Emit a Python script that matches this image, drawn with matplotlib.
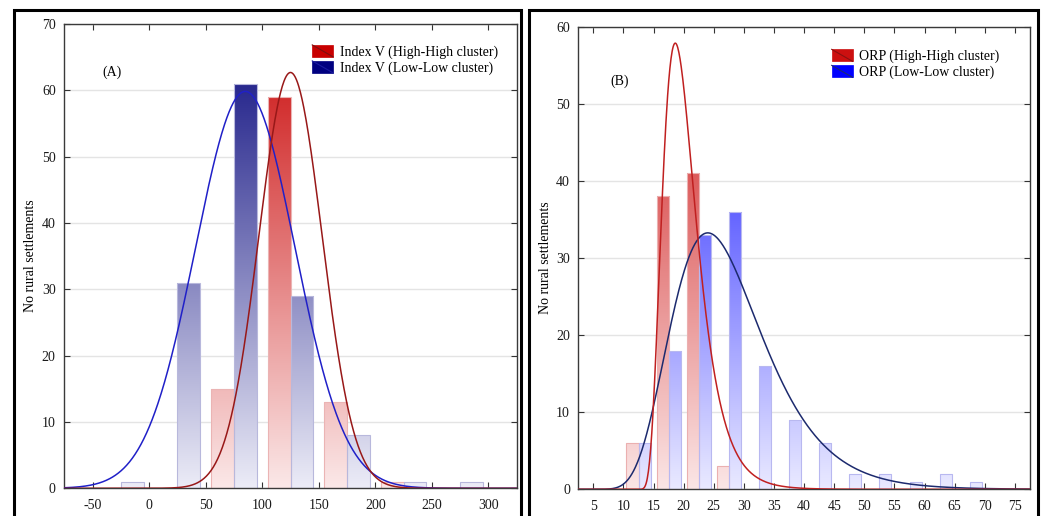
import numpy as np
import matplotlib
matplotlib.use("Agg")
import matplotlib.pyplot as plt
from matplotlib.colors import LinearSegmentedColormap
from matplotlib.patches import Rectangle
from matplotlib.lines import Line2D
from matplotlib.legend_handler import HandlerBase

plt.rcParams['font.family'] = ['Liberation Serif', 'DejaVu Serif']
plt.rcParams['axes.unicode_minus'] = False

# Panel A - Index V, bins of width 50
a_bins = [-25, 25, 75, 125, 175, 225, 275]
a_bin_width = 50
a_high = [0, 0, 15, 59, 13, 1, 0]
a_low = [1, 31, 61, 29, 8, 1, 1]
a_high_fit = (125, 28)   # normal fit: mean, sd
a_low_fit = (85, 44)

# Panel B - ORP, bins of width 5
b_bins = [12.5, 17.5, 22.5, 27.5, 32.5, 37.5, 42.5, 47.5, 52.5, 57.5, 62.5, 67.5]
b_bin_width = 5
b_high = [6, 38, 41, 3, 0, 0, 0, 0, 0, 0, 0, 0]
b_low = [6, 18, 33, 36, 16, 9, 6, 2, 2, 1, 2, 1]
b_high_fit = (11.6, 18.6, 0.40)   # lognormal fit: threshold, mode, shape
b_low_fit = (0.0, 24.0, 0.314)

a_labels = ['Index V (High-High cluster)', 'Index V (Low-Low cluster)']
b_labels = ['ORP (High-High cluster)', 'ORP (Low-Low cluster)']
ylabel = 'No rural settlements'


def normal_curve(x, n, width, mean, sd):
    return n * width * np.exp(-(x - mean) ** 2 / (2 * sd ** 2)) / (sd * np.sqrt(2 * np.pi))


def lognormal_curve(x, n, width, theta, mode, s):
    u = x - theta
    y = np.zeros_like(x)
    ok = u > 0
    mu = np.log(mode - theta) + s ** 2
    y[ok] = n * width / (u[ok] * s * np.sqrt(2 * np.pi)) * np.exp(-(np.log(u[ok]) - mu) ** 2 / (2 * s ** 2))
    return y


def gradient_bars(ax, lefts, heights, w, light, dark, ytop, edge):
    # colour runs from light at 0 to dark at the top of the y axis, clipped to each bar
    cmap = LinearSegmentedColormap.from_list('g', [light, dark])
    grad = cmap(np.linspace(0, 1, 256)).reshape(256, 1, 4)
    xs = [x0 for x0, h in zip(lefts, heights) if h > 0]
    hs = [h for h in heights if h > 0]
    bars = ax.bar(xs, hs, width=w, align='edge', facecolor='none', edgecolor=edge,
                  lw=0.8, zorder=2.1)
    for p in bars:
        x0 = p.get_x()
        im = ax.imshow(grad, origin='lower', aspect='auto', interpolation='bilinear',
                       extent=(x0 - 0.2 * w, x0 + 1.2 * w, 0, ytop * 1.05), zorder=2)
        im.set_clip_path(p)


class DiagHandler(HandlerBase):
    def create_artists(self, legend, orig_handle, xdescent, ydescent, width, height, fontsize, trans):
        face, line = orig_handle
        r = Rectangle((-xdescent, -ydescent), width, height, facecolor=face, edgecolor=face,
                      lw=0.5, transform=trans)
        l = Line2D([-xdescent, -xdescent + width], [-ydescent + height, -ydescent],
                   color=line, lw=0.8, transform=trans)
        return [r, l]


def style_axes(ax, xticks, ymax):
    ax.set_ylim(0, ymax)
    ax.set_yticks(np.arange(0, ymax + 1, 10))
    ax.set_xticks(xticks)
    ax.tick_params(direction='in', length=4, width=0.8, color='#333333', labelsize=10,
                   top=True, right=True, labelcolor='#1a1a1a')
    ax.tick_params(axis='x', pad=8)
    ax.tick_params(axis='y', pad=6)
    for sp in ax.spines.values():
        sp.set_color('#3a3a3a')
        sp.set_linewidth(1.0)
    ax.grid(axis='y', color='#e4e4e4', lw=1.0)
    ax.set_axisbelow(True)
    ax.set_ylabel(ylabel, fontsize=10)


fig = plt.figure(figsize=(10.45, 5.16), dpi=100)

# frames around each panel
for x0, x1 in [(14, 521), (529, 1038)]:
    fig.add_artist(Rectangle((x0 / 1045, -0.05), (x1 - x0) / 1045, 1.05 - 10 / 516,
                             transform=fig.transFigure, fill=False, lw=2.2, ec='black'))

# ---- panel A ----
axA = fig.add_axes([64 / 1045, 1 - 488.3 / 516, 453 / 1045, 464.3 / 516])
wA = a_bin_width * 0.4
gradient_bars(axA, [c - wA for c in a_bins], a_high, wA, '#fbe8e8', '#c80000', 70, '#ebb4b4')
gradient_bars(axA, a_bins, a_low, wA, '#ececf7', '#000078', 70, '#b8b8dc')
xa = np.linspace(-75, 325, 800)
axA.plot(xa, normal_curve(xa, sum(a_low), a_bin_width, *a_low_fit), color='#2020c8', lw=1.1, zorder=3)
axA.plot(xa, normal_curve(xa, sum(a_high), a_bin_width, *a_high_fit), color='#981818', lw=1.1, zorder=3)
axA.set_xlim(-75.4, 325.4)
style_axes(axA, np.arange(-50, 301, 50), 70)
axA.yaxis.set_label_coords(-0.060, 0.5)
axA.text(0.105, 0.896, '(A)', transform=axA.transAxes, ha='center', va='center', fontsize=10)
axA.legend([('#c80000', '#7a1010'), ('#000080', '#1a1aa0')], a_labels,
           handler_map={tuple: DiagHandler()}, loc='upper left', bbox_to_anchor=(0.548, 0.955),
           frameon=False, fontsize=10, handlelength=1.5, handleheight=0.95, handletextpad=0.5,
           labelspacing=0.15, borderpad=0, borderaxespad=0)

# ---- panel B ----
axB = fig.add_axes([578.3 / 1045, 1 - 489.3 / 516, 451.7 / 1045, 462.6 / 516])
wB = b_bin_width * 0.4
gradient_bars(axB, [c - wB for c in b_bins], b_high, wB, '#fbe6e6', '#cc1010', 60, '#ebb0b0')
gradient_bars(axB, b_bins, b_low, wB, '#eaeaff', '#0000ff', 60, '#b8b8f0')
xb = np.linspace(2.5, 77.5, 800)
axB.plot(xb, lognormal_curve(xb, sum(b_low), b_bin_width, *b_low_fit), color='#1c2a6e', lw=1.1, zorder=3)
axB.plot(xb, lognormal_curve(xb, sum(b_high), b_bin_width, *b_high_fit), color='#c02020', lw=1.1, zorder=3)
axB.set_xlim(2.5, 77.5)
style_axes(axB, np.arange(5, 76, 5), 60)
axB.yaxis.set_label_coords(-0.0576, 0.5)
axB.text(0.092, 0.883, '(B)', transform=axB.transAxes, ha='center', va='center', fontsize=10)
axB.legend([('#cc1010', '#8a1010'), ('#0000ff', '#1c2a6e')], b_labels,
           handler_map={tuple: DiagHandler()}, loc='upper left', bbox_to_anchor=(0.561, 0.951),
           frameon=False, fontsize=10, handlelength=1.5, handleheight=0.95, handletextpad=0.5,
           labelspacing=0.15, borderpad=0, borderaxespad=0)

fig.savefig('out.png', dpi=100)
